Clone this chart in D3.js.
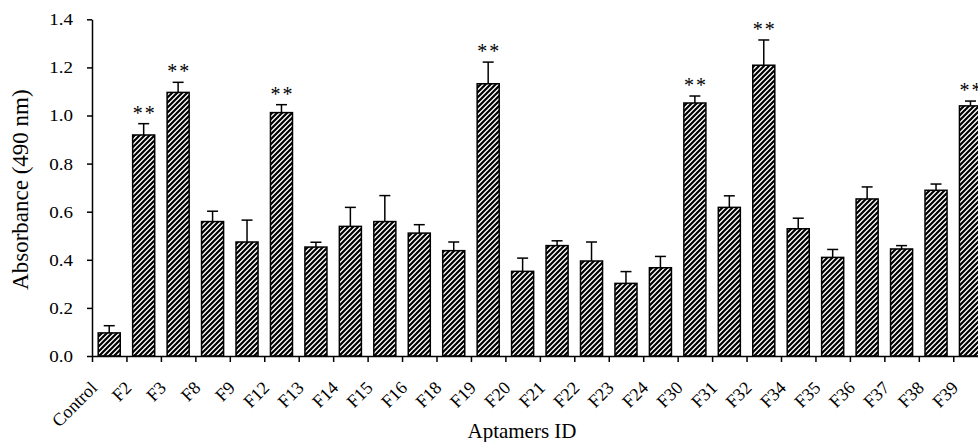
<!DOCTYPE html>
<html>
<head>
<meta charset="utf-8">
<script src="https://cdn.jsdelivr.net/npm/d3@7"></script>
<style>
  body { margin: 0; background: #fff; }
  text { font-family: "Liberation Serif", "Times New Roman", serif; fill: #000; }
</style>
</head>
<body>
<div id="chart-area"></div>
<script>
// data
var categories = ["Control", "F2", "F3", "F8", "F9", "F12", "F13", "F14", "F15", "F16", "F18", "F19", "F20",
    "F21", "F22", "F23", "F24", "F30", "F31", "F32", "F34", "F35", "F36", "F37", "F38", "F39"];
var absorbance = [0.096, 0.919, 1.096, 0.559, 0.474, 1.012, 0.453, 0.539, 0.559, 0.511, 0.438, 1.132, 0.352,
    0.459, 0.395, 0.302, 0.367, 1.052, 0.618, 1.209, 0.529, 0.410, 0.653, 0.445, 0.689, 1.040];
var errors = [0.030, 0.047, 0.042, 0.043, 0.091, 0.033, 0.020, 0.079, 0.108, 0.035, 0.036, 0.090, 0.055,
    0.020, 0.079, 0.049, 0.047, 0.029, 0.048, 0.105, 0.044, 0.033, 0.050, 0.014, 0.026, 0.020];
var significant = ["F2", "F3", "F12", "F19", "F30", "F32", "F39"];
var yTicks = [0, 0.2, 0.4, 0.6, 0.8, 1.0, 1.2, 1.4];

var data = categories.map(function(c, i) {
    return { name: c, value: absorbance[i], err: errors[i], star: significant.indexOf(c) >= 0 };
});

var width = 978, height = 442;
var padLeft = 92, yBottom = 356, yTop = 19.3;

var svg = d3.select("#chart-area").append("svg")
    .attr("width", width)
    .attr("height", height);

// hatch fill
var pat = svg.append("defs").append("pattern")
    .attr("id", "hatch")
    .attr("patternUnits", "userSpaceOnUse")
    .attr("width", 5)
    .attr("height", 5);
pat.append("rect").attr("width", 5).attr("height", 5).attr("fill", "#fff");
pat.append("path")
    .attr("d", "M-1,1 l2,-2 M0,5 l5,-5 M4,6 l2,-2")
    .attr("stroke", "#000")
    .attr("stroke-width", 2.2);

var x = d3.scaleBand()
    .domain(categories)
    .range([padLeft, padLeft + categories.length * 34.45])
    .paddingInner(0.36)
    .paddingOuter(0.18);

var y = d3.scaleLinear()
    .domain([0, 1.4])
    .range([yBottom, yTop]);

// bars
svg.selectAll("rect.bar")
    .data(data)
    .enter()
    .append("rect")
    .attr("class", "bar")
    .attr("x", function(d) { return x(d.name); })
    .attr("y", function(d) { return y(d.value); })
    .attr("width", x.bandwidth())
    .attr("height", function(d) { return y(0) - y(d.value); })
    .attr("fill", "url(#hatch)")
    .attr("stroke", "#000")
    .attr("stroke-width", 1.5);

// error bars (upper only)
var eb = svg.selectAll("g.err")
    .data(data)
    .enter()
    .append("g")
    .attr("class", "err")
    .attr("stroke", "#000")
    .attr("stroke-width", 1.5);
eb.append("line")
    .attr("x1", function(d) { return x(d.name) + x.bandwidth() / 2; })
    .attr("x2", function(d) { return x(d.name) + x.bandwidth() / 2; })
    .attr("y1", function(d) { return y(d.value); })
    .attr("y2", function(d) { return y(d.value + d.err); });
eb.append("line")
    .attr("x1", function(d) { return x(d.name) + x.bandwidth() / 2 - 5.5; })
    .attr("x2", function(d) { return x(d.name) + x.bandwidth() / 2 + 5.5; })
    .attr("y1", function(d) { return y(d.value + d.err); })
    .attr("y2", function(d) { return y(d.value + d.err); });

// ** marks
svg.selectAll("text.star")
    .data(data.filter(function(d) { return d.star; }))
    .enter()
    .append("text")
    .attr("class", "star")
    .attr("x", function(d) { return x(d.name) + x.bandwidth() / 2 + 1; })
    .attr("y", function(d) { return y(d.value + d.err) - 4; })
    .attr("text-anchor", "middle")
    .attr("font-size", 20)
    .attr("letter-spacing", 2)
    .text("**");

// y axis
var yAxis = svg.append("g")
    .attr("transform", "translate(" + padLeft + ",0)")
    .call(d3.axisLeft(y).tickValues(yTicks).tickFormat(d3.format(".1f")).tickSize(5).tickSizeOuter(0));
yAxis.selectAll("text")
    .attr("x", 0)
    .attr("font-size", 17)
    .attr("transform", "translate(-19,0) scale(1.12,1)")
    .style("font-family", "Liberation Serif");
yAxis.selectAll("path, line").attr("stroke", "#000").attr("stroke-width", 1.5);

// x axis: ticks at category boundaries
var xb = d3.scaleLinear().domain([0, categories.length]).range(x.range());
var xAxis = svg.append("g")
    .attr("transform", "translate(0," + yBottom + ")")
    .call(d3.axisBottom(xb).tickValues(d3.range(categories.length + 1)).tickFormat("").tickSize(6).tickSizeOuter(0));
xAxis.selectAll("path, line").attr("stroke", "#000").attr("stroke-width", 1.5);

svg.selectAll("text.xlab")
    .data(categories)
    .enter()
    .append("text")
    .attr("class", "xlab")
    .attr("font-size", 18)
    .attr("text-anchor", "end")
    .attr("transform", function(d) {
        return "translate(" + (x(d) + x.bandwidth() / 2 - 11) + "," + (yBottom + 33) + ") rotate(-45)";
    })
    .text(function(d) { return d; });

// axis titles
svg.append("text")
    .attr("transform", "translate(28," + ((yTop + yBottom) / 2 + 2) + ") rotate(-90)")
    .attr("text-anchor", "middle")
    .attr("font-size", 23)
    .text("Absorbance (490 nm)");

svg.append("text")
    .attr("x", 522)
    .attr("y", 438)
    .attr("text-anchor", "middle")
    .attr("font-size", 21)
    .text("Aptamers ID");
</script>
</body>
</html>
